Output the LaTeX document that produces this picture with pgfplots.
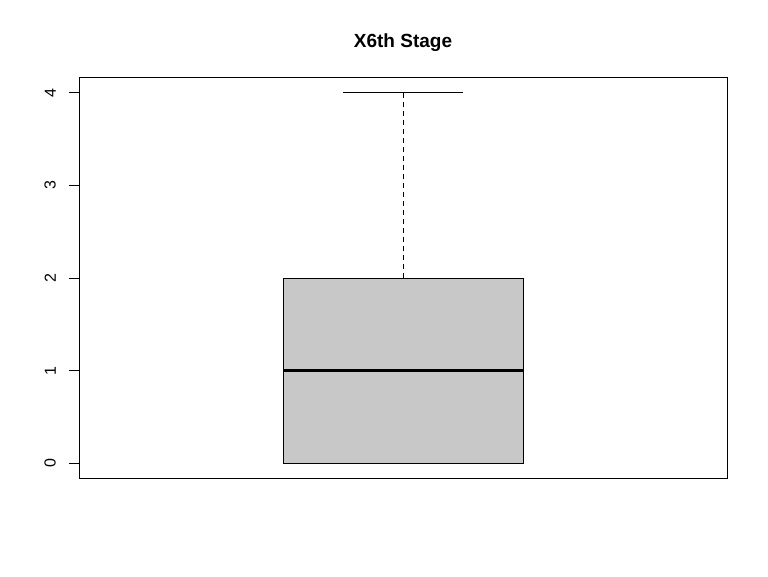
\documentclass[border=0pt]{standalone}
\usepackage{pgfplots}
\pgfplotsset{compat=1.18}
\usepackage{fontspec}
\setmainfont{Liberation Sans}
\definecolor{boxgray}{HTML}{C8C8C8}
\begin{document}
\begin{tikzpicture}[x=1pt,y=1pt]
\path[use as bounding box] (0,0) rectangle (768,576);
\begin{axis}[
  at={(79pt,98pt)}, anchor=south west,
  scale only axis, width=648pt, height=400pt,
  xmin=0.46, xmax=1.54, ymin=-0.16, ymax=4.16,
  xtick=\empty,
  ytick={0,1,2,3,4},
  tick align=outside,
  major tick length=10pt,
  ytick pos=left,
  axis line style={line width=1pt},
  every tick/.style={black, line width=1pt},
  /pgf/number format/assume math mode=true,
  yticklabel shift=13pt,
  yticklabel style={font=\fontsize{16}{16}\selectfont, rotate=90, anchor=south, inner sep=0pt},
  title={X6th Stage},
  title style={font=\fontsize{19}{19}\selectfont\bfseries, anchor=base, at={(0.5,1)}, yshift=24pt},
]
\addplot[fill=boxgray, draw=black, line width=1pt] coordinates {(0.8,0) (1.2,0) (1.2,2) (0.8,2)} -- cycle;
\addplot[black, line width=3pt] coordinates {(0.8,1) (1.2,1)};
\addplot[black, line width=1pt, dash pattern=on 5pt off 4pt] coordinates {(1,2) (1,4)};
\addplot[black, line width=1pt] coordinates {(0.9,4) (1.1,4)};
\addplot[black, line width=1pt] coordinates {(0.9,0) (1.1,0)};
\end{axis}
\end{tikzpicture}
\end{document}
